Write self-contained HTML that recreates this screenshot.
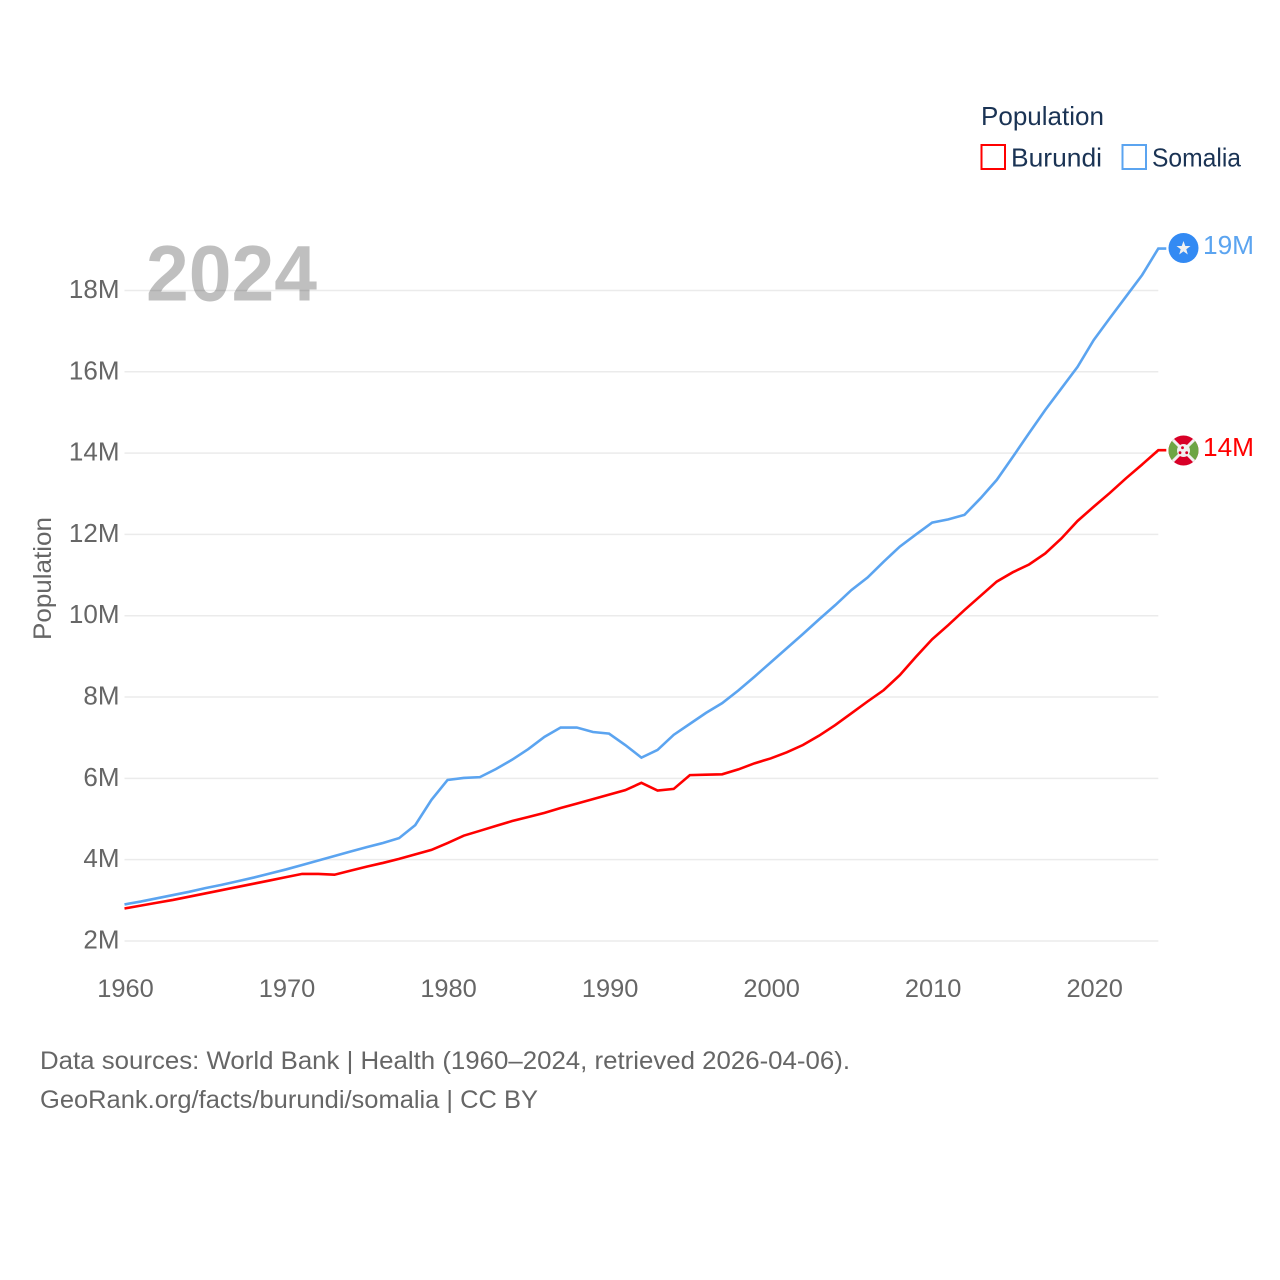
<!DOCTYPE html>
<html lang="en">
<head>
<meta charset="utf-8">
<title>Population: Burundi and Somalia</title>
<style>
  html, body { margin: 0; padding: 0; background: #fff; }
  svg { display: block; font-family: "Liberation Sans", sans-serif; }
  .xtick { font-size: 25.4px; fill: #666; }
  .ytick { font-size: 26px; fill: #666; }
  .legend { font-size: 26px; fill: #1a3354; }
  .foot { font-size: 25px; fill: #666; }
</style>
</head>
<body>
<svg id="chart" xmlns="http://www.w3.org/2000/svg" width="1280" height="1280" viewBox="0 0 1280 1280">
  <rect x="0" y="0" width="1280" height="1280" fill="#fff"/>
  <g id="grid"></g>
  <g id="yticks"></g>
  <g id="xticks"></g>
  <text x="146" y="300.5" font-size="79" font-weight="700" fill="#000" fill-opacity="0.25" textLength="171" lengthAdjust="spacingAndGlyphs">2024</text>
  <text transform="translate(51,640) rotate(-90)" font-size="25" fill="#666" textLength="123" lengthAdjust="spacingAndGlyphs">Population</text>
  <g id="lines"></g>

  <g>
    <circle id="somalia-flag" cx="1183.5" cy="248" r="15" fill="#338af3"/>
    <polygon points="1183.5,241 1185.3,246 1190.5,246 1186.3,249.2 1187.8,254.5 1183.5,251.4 1179.2,254.5 1180.7,249.2 1176.5,246 1181.7,246" fill="#f0f0f0"/>
  </g>
  <text id="somalia-label" x="1203" y="254" font-size="25.5" fill="#5ba4f0" textLength="51" lengthAdjust="spacingAndGlyphs"></text>

  <g>
    <clipPath id="bi-clip"><circle cx="1183.5" cy="450.5" r="15"/></clipPath>
    <g clip-path="url(#bi-clip)">
      <rect x="1168" y="435" width="31" height="31" fill="#d80027"/>
      <polygon points="1168,435 1183.5,450.5 1168,466" fill="#6da544"/>
      <polygon points="1199,435 1183.5,450.5 1199,466" fill="#6da544"/>
      <path d="M1170 437 L1197 464 M1197 437 L1170 464" stroke="#f0f0f0" stroke-width="3"/>
      <circle cx="1183.5" cy="450.5" r="6.5" fill="#f0f0f0"/>
      <circle cx="1182.5" cy="447.7" r="1.4" fill="#d80027"/>
      <circle cx="1180" cy="452.7" r="1.4" fill="#d80027"/>
      <circle cx="1186.7" cy="452.7" r="1.4" fill="#d80027"/>
    </g>
  </g>
  <text id="burundi-label" x="1203" y="456" font-size="25.5" fill="#ff0000" textLength="51" lengthAdjust="spacingAndGlyphs"></text>

  <g>
    <text class="legend" x="981" y="125" textLength="123" lengthAdjust="spacingAndGlyphs">Population</text>
    <g>
      <rect x="981.5" y="145" width="23.5" height="24" fill="#fff" stroke="#ff0000" stroke-width="2"/>
      <text class="legend" x="1011" y="166.5" textLength="91" lengthAdjust="spacingAndGlyphs">Burundi</text>
    </g>
    <g>
      <rect x="1122.5" y="145" width="23.5" height="24" fill="#fff" stroke="#5ba4f0" stroke-width="2"/>
      <text class="legend" x="1152" y="166.5" textLength="89" lengthAdjust="spacingAndGlyphs">Somalia</text>
    </g>
  </g>

  <text class="foot" x="40" y="1069" textLength="810" lengthAdjust="spacingAndGlyphs">Data sources: World Bank | Health (1960–2024, retrieved 2026-04-06).</text>
  <text class="foot" x="40" y="1108" textLength="498" lengthAdjust="spacingAndGlyphs">GeoRank.org/facts/burundi/somalia | CC BY</text>
</svg>
<script>
const years = [1960,1961,1962,1963,1964,1965,1966,1967,1968,1969,1970,1971,1972,1973,1974,1975,1976,1977,1978,1979,1980,1981,1982,1983,1984,1985,1986,1987,1988,1989,1990,1991,1992,1993,1994,1995,1996,1997,1998,1999,2000,2001,2002,2003,2004,2005,2006,2007,2008,2009,2010,2011,2012,2013,2014,2015,2016,2017,2018,2019,2020,2021,2022,2023,2024];
const somaliaValues = [2.90,2.97,3.05,3.13,3.21,3.30,3.38,3.47,3.56,3.66,3.76,3.87,3.98,4.09,4.20,4.31,4.41,4.53,4.85,5.47,5.96,6.01,6.03,6.23,6.46,6.72,7.02,7.25,7.25,7.14,7.10,6.82,6.51,6.70,7.07,7.34,7.61,7.85,8.16,8.50,8.85,9.20,9.55,9.91,10.26,10.63,10.94,11.33,11.70,12.00,12.29,12.37,12.48,12.89,13.34,13.91,14.49,15.06,15.59,16.12,16.78,17.32,17.85,18.38,19.03];
const burundiValues = [2.80,2.87,2.94,3.01,3.09,3.17,3.25,3.33,3.41,3.49,3.57,3.65,3.65,3.63,3.73,3.83,3.92,4.02,4.13,4.24,4.41,4.59,4.71,4.83,4.95,5.05,5.15,5.27,5.38,5.49,5.60,5.71,5.89,5.70,5.74,6.08,6.09,6.10,6.22,6.37,6.49,6.64,6.82,7.05,7.31,7.60,7.89,8.17,8.54,8.99,9.42,9.77,10.14,10.49,10.84,11.07,11.26,11.53,11.90,12.33,12.68,13.02,13.38,13.72,14.07];
const yTickValues = [2,4,6,8,10,12,14,16,18];
const xTickValues = [1960,1970,1980,1990,2000,2010,2020];

const NS = 'http://www.w3.org/2000/svg';
function xScale(year) { return 124.5 + (year - 1960) * 16.153; }
function yScale(value) { return 941 - (value - 2) * 40.66; }

const grid = document.getElementById('grid');
const yticks = document.getElementById('yticks');
const xticks = document.getElementById('xticks');
const lines = document.getElementById('lines');

yTickValues.forEach(function (v) {
  const line = document.createElementNS(NS, 'line');
  
  
  line.setAttribute('x1', xScale(1960));
  line.setAttribute('x2', xScale(2024));
  line.setAttribute('y1', yScale(v));
  line.setAttribute('y2', yScale(v));
  line.setAttribute('stroke', '#ebebeb');
  line.setAttribute('stroke-width', '1.5');
  grid.appendChild(line);

  const label = document.createElementNS(NS, 'text');
  
  
  label.setAttribute('class', 'ytick');
  label.setAttribute('x', 119.5);
  label.setAttribute('y', yScale(v) + 7.5);
  label.setAttribute('text-anchor', 'end');
  label.textContent = v + 'M';
  yticks.appendChild(label);
});

xTickValues.forEach(function (yr) {
  const label = document.createElementNS(NS, 'text');
  
  
  label.setAttribute('class', 'xtick');
  label.setAttribute('x', xScale(yr) + 1);
  label.setAttribute('y', 997);
  label.setAttribute('text-anchor', 'middle');
  label.textContent = yr;
  xticks.appendChild(label);
});

function seriesPath(values) {
  const pts = values.map(function (v, i) {
    return xScale(years[i]).toFixed(2) + ',' + yScale(v).toFixed(2);
  });
  const last = values[values.length - 1];
  pts.push((xScale(years[years.length - 1]) + 8).toFixed(2) + ',' + yScale(last).toFixed(2));
  return 'M' + pts.join(' L');
}

const somaliaLine = document.createElementNS(NS, 'path');


somaliaLine.setAttribute('d', seriesPath(somaliaValues));
somaliaLine.setAttribute('fill', 'none');
somaliaLine.setAttribute('stroke', '#5ba4f0');
somaliaLine.setAttribute('stroke-width', '2.6');
lines.appendChild(somaliaLine);

const burundiLine = document.createElementNS(NS, 'path');


burundiLine.setAttribute('d', seriesPath(burundiValues));
burundiLine.setAttribute('fill', 'none');
burundiLine.setAttribute('stroke', '#ff0000');
burundiLine.setAttribute('stroke-width', '2.6');
lines.appendChild(burundiLine);

document.getElementById('somalia-label').textContent = Math.round(somaliaValues[somaliaValues.length - 1]) + 'M';
document.getElementById('burundi-label').textContent = Math.round(burundiValues[burundiValues.length - 1]) + 'M';
</script>
</body>
</html>
